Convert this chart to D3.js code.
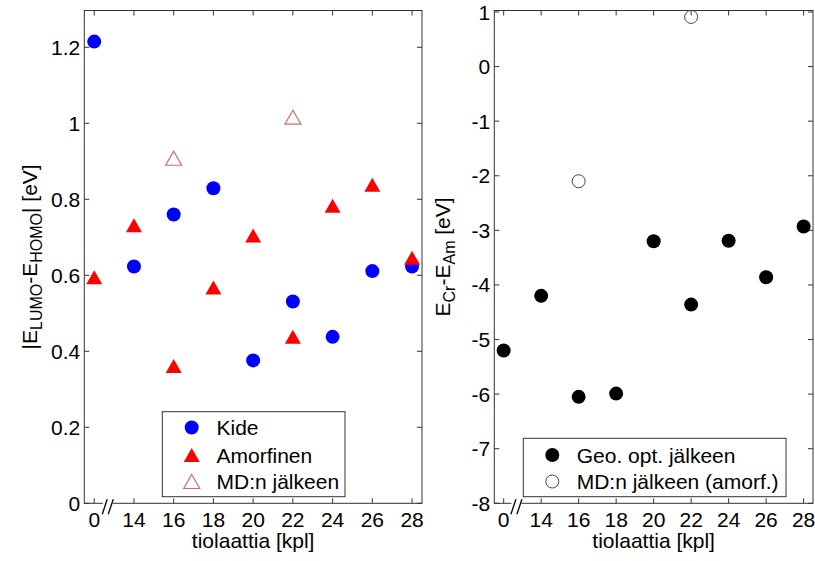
<!DOCTYPE html>
<html>
<head>
<meta charset="utf-8">
<script src="https://cdn.jsdelivr.net/npm/d3@7"></script>
<style>
  body { margin: 0; background: #fff; }
  text { font-family: "Liberation Sans", Arial, Helvetica, sans-serif; fill: #000; }
</style>
</head>
<body>
<div id="chart"></div>
<script>
// x categories (number of thiolates); 0 is plotted after a broken axis
var xLabels = ["0", "14", "16", "18", "20", "22", "24", "26", "28"];

// left panel: |E_LUMO - E_HOMO| [eV]
var kide      = [1.215, 0.623, 0.760, 0.829, 0.376, 0.531, 0.438, 0.611, 0.623];
var amorfinen = [0.595, 0.732, 0.361, 0.568, 0.705, 0.438, 0.783, 0.838, 0.646];
var mdIdx     = [2, 5];
var mdVals    = [0.908, 1.016];
var leftTicks = [0, 0.2, 0.4, 0.6, 0.8, 1, 1.2];

// right panel: E_Cr - E_Am [eV]
var geoOpt     = [-5.20, -4.20, -6.05, -5.99, -3.20, -4.36, -3.19, -3.86, -2.93];
var mdAmIdx    = [2, 5];
var mdAmVals   = [-2.10, 0.91];
var rightTicks = [-8, -7, -6, -5, -4, -3, -2, -1, 0, 1];

var W = 815, H = 561;
var svg = d3.select("#chart").append("svg")
    .attr("width", W).attr("height", H);

var idx = d3.range(xLabels.length);
var TL = 5;          // tick length (inward)
var axisCol = "#333";
var fs = "21px";

function triPath(cx, cy) {
  var w = 16, h = 14;
  return "M" + (cx - w / 2) + "," + (cy + h / 2) + "L" + (cx + w / 2) + "," + (cy + h / 2)
       + "L" + cx + "," + (cy - h / 2) + "Z";
}

function panel(opt) {
  var x = d3.scaleLinear().domain([-0.25, 8.25]).range([opt.x0, opt.x1]);
  var y = d3.scaleLinear().domain(opt.ydom).range([opt.yb, opt.yt]);
  var g = svg.append("g");
  var top = 10.5, bot = opt.yb;

  // frame
  g.append("rect")
      .attr("x", opt.x0).attr("y", top)
      .attr("width", opt.x1 - opt.x0).attr("height", bot - top)
      .attr("fill", "none").attr("stroke", axisCol).attr("stroke-width", 1);

  // x ticks bottom and top
  g.selectAll(".xt").data(idx).enter().append("path")
      .attr("d", function(i) {
        var px = x(i);
        return "M" + px + "," + bot + "v" + (-TL) + "M" + px + "," + top + "v" + TL;
      })
      .attr("stroke", axisCol);
  g.selectAll(".xl").data(idx).enter().append("text")
      .attr("x", function(i) { return x(i); })
      .attr("y", 527)
      .attr("text-anchor", "middle")
      .style("font-size", fs)
      .text(function(i) { return xLabels[i]; });

  // y ticks left and right
  g.selectAll(".yt").data(opt.ticks).enter().append("path")
      .attr("d", function(v) {
        var py = y(v);
        return "M" + opt.x0 + "," + py + "h" + TL + "M" + opt.x1 + "," + py + "h" + (-TL);
      })
      .attr("stroke", axisCol);
  g.selectAll(".yl").data(opt.ticks).enter().append("text")
      .attr("x", opt.x0 - 4)
      .attr("y", function(v) { return y(v) + 7.5; })
      .attr("text-anchor", "end")
      .style("font-size", fs)
      .text(function(v) { return String(v); });

  // axis break marks "//"
  var bx = x(0.34);
  g.append("rect").attr("x", bx - 5).attr("y", bot - 2).attr("width", 10).attr("height", 4)
      .attr("fill", "#fff");
  [-3, 3].forEach(function(off) {
    g.append("line")
        .attr("x1", bx + off - 2.5).attr("y1", bot + 11)
        .attr("x2", bx + off + 2.5).attr("y2", bot - 4)
        .attr("stroke", "#000").attr("stroke-width", 1.3);
  });

  // x label
  g.append("text")
      .attr("x", (opt.x0 + opt.x1) / 2).attr("y", 548)
      .attr("text-anchor", "middle")
      .style("font-size", fs)
      .text("tiolaattia [kpl]");

  // y label
  var yl = g.append("text")
      .attr("transform", "translate(" + opt.ylx + "," + (top + bot) / 2 + ") rotate(-90)")
      .attr("text-anchor", "middle")
      .style("font-size", fs);
  opt.ylabel.forEach(function(p) {
    var t = yl.append("tspan").text(p[0]);
    if (p[1] === "sub") t.style("font-size", "16px").attr("dy", 5);
    else if (p[1] === "back") t.attr("dy", -5);
  });

  return { g: g, x: x, y: y };
}

// ---------- left panel ----------
var L = panel({
  x0: 84.3, x1: 422, ydom: [0, 1.3], yb: 503.3, yt: 9.3, ticks: leftTicks, ylx: 37,
  ylabel: [["|E"], ["LUMO", "sub"], ["-E", "back"], ["HOMO", "sub"], ["| [eV]", "back"]]
});

L.g.selectAll(".kide").data(kide).enter().append("circle")
    .attr("cx", function(d, i) { return L.x(i); })
    .attr("cy", function(d) { return L.y(d); })
    .attr("r", 7).attr("fill", "#0000ff");

L.g.selectAll(".amorf").data(amorfinen).enter().append("path")
    .attr("d", function(d, i) { return triPath(L.x(i), L.y(d)); })
    .attr("fill", "#ff0000");

L.g.selectAll(".md").data(mdVals).enter().append("path")
    .attr("d", function(d, k) { return triPath(L.x(mdIdx[k]), L.y(d)); })
    .attr("fill", "none").attr("stroke", "#d86a6a").attr("stroke-width", 1.2);

// left legend
var lg = L.g.append("g");
lg.append("rect").attr("x", 162.3).attr("y", 411.7).attr("width", 182.7).attr("height", 85)
    .attr("fill", "#fff").attr("stroke", axisCol);
lg.append("circle").attr("cx", 191.7).attr("cy", 427.5).attr("r", 7).attr("fill", "#0000ff");
lg.append("path").attr("d", triPath(191.7, 455)).attr("fill", "#ff0000");
lg.append("path").attr("d", triPath(191.7, 481.5)).attr("fill", "none")
    .attr("stroke", "#d86a6a").attr("stroke-width", 1.2);
[["Kide", 427.5], ["Amorfinen", 455], ["MD:n jälkeen", 481.5]].forEach(function(e) {
  lg.append("text").attr("x", 216.5).attr("y", e[1] + 7.5).style("font-size", fs).text(e[0]);
});

// ---------- right panel ----------
var R = panel({
  x0: 494.3, x1: 813, ydom: [-8, 1], yb: 503.3, yt: 12, ticks: rightTicks, ylx: 450,
  ylabel: [["E"], ["Cr", "sub"], ["-E", "back"], ["Am", "sub"], [" [eV]", "back"]]
});

R.g.selectAll(".geo").data(geoOpt).enter().append("circle")
    .attr("cx", function(d, i) { return R.x(i); })
    .attr("cy", function(d) { return R.y(d); })
    .attr("r", 7).attr("fill", "#000");

R.g.selectAll(".mdam").data(mdAmVals).enter().append("circle")
    .attr("cx", function(d, k) { return R.x(mdAmIdx[k]); })
    .attr("cy", function(d) { return R.y(d); })
    .attr("r", 6.5).attr("fill", "none").attr("stroke", "#444").attr("stroke-width", 1);

// right legend
var rg = R.g.append("g");
rg.append("rect").attr("x", 523.3).attr("y", 438.3).attr("width", 262.7).attr("height", 58.4)
    .attr("fill", "#fff").attr("stroke", axisCol);
rg.append("circle").attr("cx", 552.3).attr("cy", 455).attr("r", 7).attr("fill", "#000");
rg.append("circle").attr("cx", 552.3).attr("cy", 481.5).attr("r", 6.5)
    .attr("fill", "none").attr("stroke", "#444");
[["Geo. opt. jälkeen", 455], ["MD:n jälkeen (amorf.)", 481.5]].forEach(function(e) {
  rg.append("text").attr("x", 576.7).attr("y", e[1] + 7.5).style("font-size", fs).text(e[0]);
});
</script>
</body>
</html>
